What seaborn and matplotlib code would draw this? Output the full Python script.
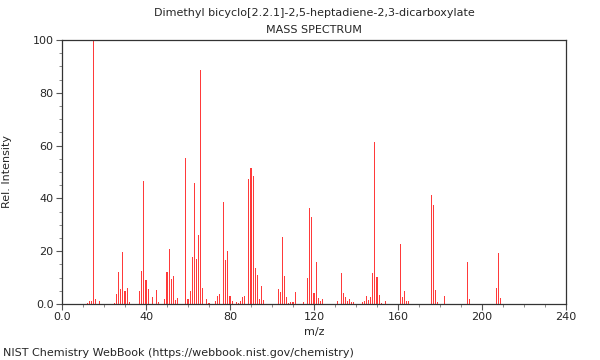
import matplotlib
matplotlib.use('Agg')
import matplotlib.pyplot as plt
import numpy as np
import pandas as pd
import seaborn as sns
from matplotlib.ticker import MultipleLocator

# m/z values and relative intensities
mz = [12, 13, 14, 15, 16, 18, 25, 26, 27, 28, 29, 30, 31, 32,
      37, 38, 39, 40, 41, 43, 45, 46, 49, 50, 51, 52, 53, 54, 55,
      59, 60, 61, 62, 63, 64, 65, 66, 67, 69, 70, 73, 74, 75, 77,
      78, 79, 80, 81, 83, 84, 85, 86, 87, 89, 90, 91, 92, 93, 94, 95, 96,
      103, 104, 105, 106, 107, 108, 109, 110, 111, 115, 117, 118, 119, 120,
      121, 122, 123, 124, 131, 133, 134, 135, 136, 137, 138, 139, 143, 144,
      145, 146, 147, 148, 149, 150, 151, 152, 154, 161, 162, 163, 164, 165,
      176, 177, 178, 179, 182, 193, 194, 207, 208, 209]
intensity = [0.5, 1.0, 1.2, 100.0, 1.9, 1.1, 0.5, 3.8, 12.2, 5.8, 19.7, 5.0, 5.9, 0.9,
             4.9, 12.5, 46.6, 9.1, 5.7, 2.6, 5.3, 0.9, 1.8, 12.0, 20.8, 9.3, 10.6, 1.5, 2.4,
             55.3, 1.8, 5.1, 17.9, 45.8, 17.0, 26.1, 88.6, 5.9, 1.8, 0.5, 1.0, 3.0, 3.7, 38.5,
             16.7, 20.2, 3.2, 1.0, 0.9, 0.5, 1.0, 2.5, 3.0, 47.3, 51.5, 48.6, 13.5, 11.0, 1.9, 6.9, 1.5,
             5.6, 4.7, 25.4, 10.6, 2.8, 0.5, 0.7, 0.7, 4.4, 0.8, 9.7, 36.4, 33.0, 4.3,
             16.0, 2.4, 1.2, 1.9, 1.0, 11.6, 4.2, 2.8, 1.2, 2.0, 0.7, 0.7, 0.8, 1.2,
             3.2, 1.5, 2.8, 11.6, 61.5, 10.4, 3.4, 0.5, 1.0, 22.7, 2.8, 4.9, 1.0, 1.2,
             41.3, 37.5, 5.3, 0.9, 3.0, 15.9, 1.8, 5.9, 19.2, 2.3]

x_ticks = [0, 40, 80, 120, 160, 200, 240]
x_labels = ['0.0', '40', '80', '120', '160', '200', '240']
y_ticks = [0, 20, 40, 60, 80, 100]
y_labels = ['0.0', '20', '40', '60', '80', '100']

df = pd.DataFrame({'mz': mz, 'intensity': intensity})

sns.set_theme(style='ticks')
plt.rcParams['font.family'] = ['DejaVu Sans']

fig = plt.figure(figsize=(6, 3.6), dpi=100)
ax = fig.add_axes([62 / 600, 1 - 304 / 360, 504 / 600, 264 / 360])

sns.barplot(data=df, x='mz', y='intensity', native_scale=True, width=0.55,
            color='#ff3a3a', saturation=1, errorbar=None, linewidth=0, ax=ax)

ax.set_xlim(0, 240)
ax.set_ylim(0, 100)
ax.set_xticks(x_ticks)
ax.set_xticklabels(x_labels, fontsize=8)
ax.set_yticks(y_ticks)
ax.set_yticklabels(y_labels, fontsize=8)
ax.xaxis.set_minor_locator(MultipleLocator(10))
ax.yaxis.set_minor_locator(MultipleLocator(5))
ax.tick_params(which='major', length=4, width=0.8, color='#555555', direction='out', pad=2)
ax.tick_params(which='minor', length=2, width=0.6, color='#777777', direction='out')
for s in ax.spines.values():
    s.set_color('#333333')
    s.set_linewidth(0.9)

ax.set_xlabel('m/z', fontsize=8, labelpad=3)
ax.set_ylabel('Rel. Intensity', fontsize=8)
ax.yaxis.set_label_coords(-0.1, 0.5)

cx = 314 / 600
fig.text(cx, 1 - 13 / 360, 'Dimethyl bicyclo[2.2.1]-2,5-heptadiene-2,3-dicarboxylate',
         ha='center', va='center', fontsize=8)
fig.text(cx, 1 - 30 / 360, 'MASS SPECTRUM', ha='center', va='center', fontsize=8)
fig.text(3 / 600, 1 - 353 / 360, 'NIST Chemistry WebBook (https://webbook.nist.gov/chemistry)',
         ha='left', va='center', fontsize=8)

fig.savefig('out.png', dpi=100)
